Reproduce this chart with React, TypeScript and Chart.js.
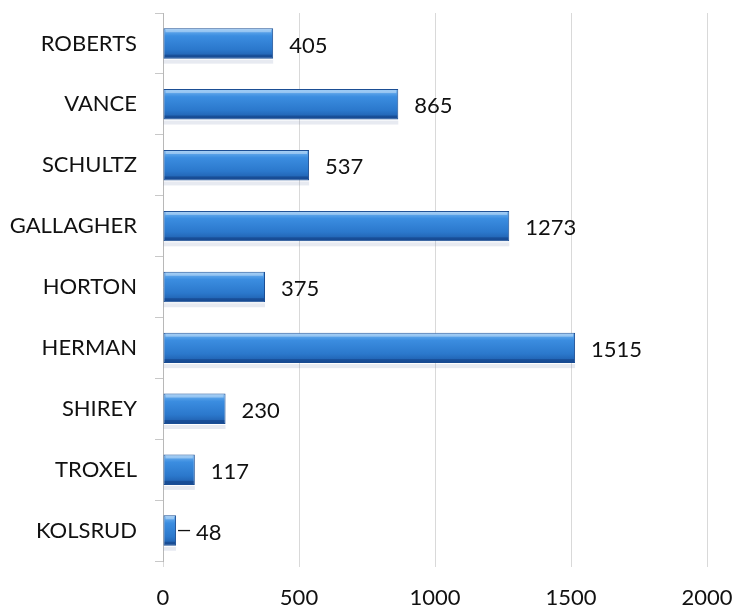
import React, { useEffect, useRef } from "react";
import { Chart, registerables } from "chart.js";

Chart.register(...registerables);

const categories = ["ROBERTS", "VANCE", "SCHULTZ", "GALLAGHER", "HORTON", "HERMAN", "SHIREY", "TROXEL", "KOLSRUD"];
const values = [405, 865, 537, 1273, 375, 1515, 230, 117, 48];
const xTicks = [0, 500, 1000, 1500, 2000];

const FONT = "Lato, 'Open Sans', sans-serif";

const labelPlugin = {
  id: "valueLabels",
  afterDatasetsDraw(chart: any) {
    const { ctx } = chart;
    const meta = chart.getDatasetMeta(0);
    ctx.save();
    ctx.font = `22px ${FONT}`;
    ctx.fillStyle = "#111";
    ctx.textBaseline = "middle";
    ctx.textAlign = "left";
    meta.data.forEach((bar: any, i: number) => {
      const v = values[i];
      const x = bar.x;
      const y = bar.y + 2;
      if (v < 80) {
        ctx.strokeStyle = "#111";
        ctx.lineWidth = 1.3;
        ctx.beginPath();
        ctx.moveTo(x + 2, bar.y);
        ctx.lineTo(x + 14, bar.y);
        ctx.stroke();
        ctx.fillText(String(v), x + 20, y);
      } else {
        ctx.fillText(String(v), x + 16, y);
      }
    });
    ctx.restore();
  },
};

const bevelPlugin = {
  id: "bevel",
  afterDatasetsDraw(chart: any) {
    const { ctx } = chart;
    const meta = chart.getDatasetMeta(0);
    ctx.save();
    meta.data.forEach((bar: any) => {
      const h = bar.height;
      const top = bar.y - h / 2;
      const left = bar.base;
      const right = bar.x;
      ctx.fillStyle = "rgba(255,255,255,0.35)";
      ctx.fillRect(left + 2, top + 1, Math.max(0, right - left - 4), 3);
      ctx.fillStyle = "rgba(10,40,100,0.35)";
      ctx.fillRect(left + 1, top + h - 4, Math.max(0, right - left - 2), 3);
      ctx.fillStyle = "rgba(120,140,180,0.18)";
      ctx.fillRect(left, top + h + 1, right - left, 4);
    });
    ctx.restore();
  },
};

export default function App() {
  const ref = useRef<HTMLCanvasElement | null>(null);

  useEffect(() => {
    if (!ref.current) return;
    const chart = new Chart(ref.current, {
      type: "bar",
      data: {
        labels: categories,
        datasets: [
          {
            data: values,
            backgroundColor: (c: any) => {
              const chartObj = c.chart;
              const ys = chartObj.scales?.y;
              if (!ys || c.dataIndex === undefined) return "#2c7ad0";
              const cy = ys.getPixelForValue(c.dataIndex);
              if (!Number.isFinite(cy)) return "#2c7ad0";
              const g = chartObj.ctx.createLinearGradient(0, cy - 15, 0, cy + 15);
              g.addColorStop(0, "#78b8f2");
              g.addColorStop(0.25, "#3b8de0");
              g.addColorStop(0.7, "#2b78cc");
              g.addColorStop(1, "#1d5aa8");
              return g;
            },
            borderColor: "#1b4e94",
            borderWidth: 1,
            borderSkipped: false,
            barPercentage: 0.5,
            categoryPercentage: 1,
          },
        ],
      },
      options: {
        indexAxis: "y",
        animation: false,
        responsive: false,
        maintainAspectRatio: false,
        layout: { padding: { top: 13, right: 31, left: 0, bottom: 0 } },
        plugins: {
          legend: { display: false },
          tooltip: { enabled: false },
        },
        scales: {
          x: {
            min: 0,
            max: 2000,
            afterBuildTicks: (s: any) => {
              s.ticks = xTicks.map((v) => ({ value: v }));
            },
            grid: { color: "#d9d9d9", lineWidth: 1, tickLength: 6, drawTicks: true },
            border: { display: false },
            ticks: {
              font: { family: FONT, size: 22 },
              color: "#111",
              padding: 18,
              callback: (v: any) => String(v),
            },
            afterFit: (s: any) => {
              s.height = 50;
              s.paddingLeft = 0;
              s.paddingRight = 0;
            },
          },
          y: {
            grid: {
              offset: true,
              drawOnChartArea: false,
              color: "#c8c8c8",
              tickLength: 8,
            },
            border: { display: true, color: "#b8b8b8", width: 1 },
            ticks: {
              font: { family: FONT, size: 22 },
              color: "#111",
              padding: 18,
            },
            afterFit: (s: any) => {
              s.width = 163;
              s.paddingTop = 0;
              s.paddingBottom = 0;
            },
          },
        },
      },
      plugins: [bevelPlugin, labelPlugin],
    });
    chart.update();
    return () => chart.destroy();
  }, []);

  return (
    <div style={{ position: "absolute", left: 0, top: 0, width: 738, height: 611, background: "#fff" }}>
      <canvas ref={ref} width={738} height={611} style={{ width: 738, height: 611 }} />
    </div>
  );
}
